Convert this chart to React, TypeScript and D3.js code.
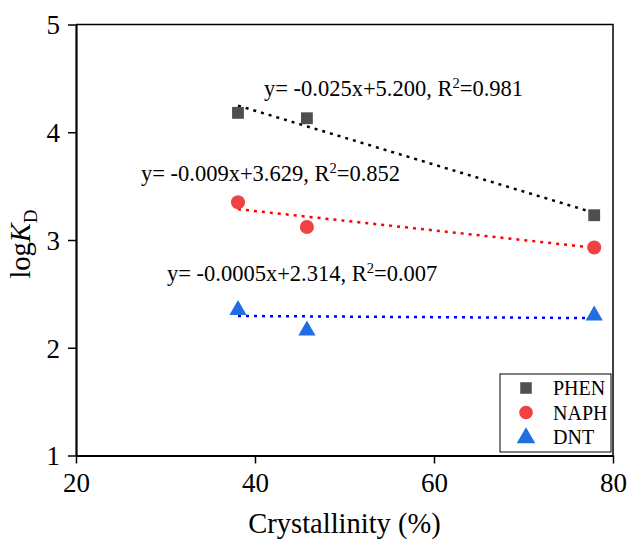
import React, { useEffect, useRef } from 'react';
import * as d3 from 'd3';

const crystallinity = [38.1, 45.8, 77.9];
const series = ['PHEN', 'NAPH', 'DNT'];
const phen = [4.18, 4.13, 3.23];
const naph = [3.35, 3.12, 2.93];
const dnt = [2.35, 2.16, 2.30];
const slopes = [-0.025, -0.009, -0.0005];
const intercepts = [5.2, 3.629, 2.314];
const eqLabels = ['y= -0.025x+5.200, R', 'y= -0.009x+3.629, R', 'y= -0.0005x+2.314, R'];
const r2Labels = ['=0.981', '=0.852', '=0.007'];
const xTicks = [20, 40, 60, 80];
const yTicks = [1, 2, 3, 4, 5];

const markerColors = ['#4f4f4f', '#ef4343', '#1f6fe3'];
const lineColors = ['#000000', '#ff0000', '#0000ff'];
const symbols = [d3.symbolSquare, d3.symbolCircle, d3.symbolTriangle];
const symbolSizes = [140, 155, 128];

const FONT = 'Liberation Serif';

const App = () => {
  const svgRef = useRef<SVGSVGElement>(null);

  useEffect(() => {
    const margin = { top: 24.5, right: 17, bottom: 85.5, left: 76 };
    const W = 630, H = 541;
    const width = W - margin.left - margin.right;
    const height = H - margin.top - margin.bottom;

    d3.select(svgRef.current).selectAll('*').remove();
    const root = d3.select(svgRef.current)
      .attr('width', W).attr('height', H)
      .attr('font-family', FONT);
    const svg = root.append('g').attr('transform', `translate(${margin.left},${margin.top})`);

    const x = d3.scaleLinear().domain([20, 80]).range([0, width]);
    const y = d3.scaleLinear().domain([1, 5]).range([height, 0]);

    // frame: top and right
    svg.append('path')
      .attr('d', `M0,0H${width}V${height}`)
      .attr('fill', 'none').attr('stroke', '#000').attr('stroke-width', 1.5);

    // axes
    const xAxis = svg.append('g')
      .attr('transform', `translate(0,${height})`)
      .call(d3.axisBottom(x).tickValues(xTicks).tickFormat(d3.format('d')).tickSize(8).tickPadding(6).tickSizeOuter(0));
    const yAxis = svg.append('g')
      .call(d3.axisLeft(y).tickValues(yTicks).tickFormat(d3.format('d')).tickSize(8).tickPadding(8).tickSizeOuter(0));
    [xAxis, yAxis].forEach(a => {
      a.attr('font-family', FONT).attr('font-size', 27);
      a.select('.domain').attr('stroke-width', 2.2);
      a.selectAll('.tick line').attr('stroke-width', 1.5);
      a.selectAll('text').attr('fill', '#000');
    });
    xAxis.selectAll('text').attr('dy', '0.82em');
    yAxis.selectAll('text').attr('dy', '0.35em');

    const values = [phen, naph, dnt];

    // trend lines (dotted), across the crystallinity range
    const xMin = d3.min(crystallinity)!, xMax = d3.max(crystallinity)!;
    values.forEach((_, i) => {
      svg.append('line')
        .attr('x1', x(xMin)).attr('y1', y(slopes[i] * xMin + intercepts[i]))
        .attr('x2', x(xMax)).attr('y2', y(slopes[i] * xMax + intercepts[i]))
        .attr('stroke', lineColors[i]).attr('stroke-width', 2.5)
        .attr('stroke-dasharray', '3,5');
    });

    // markers
    values.forEach((vals, i) => {
      svg.selectAll(`.pt${i}`)
        .data(vals)
        .enter()
        .append('path')
        .attr('transform', (d, j) => `translate(${x(crystallinity[j])},${y(d)})`)
        .attr('d', d3.symbol().type(symbols[i]).size(symbolSizes[i])())
        .attr('fill', markerColors[i]);
    });

    // equations
    const eqPos = [[264, 96], [141, 181], [167, 281]];
    eqLabels.forEach((t, i) => {
      const tx = root.append('text')
        .attr('x', eqPos[i][0]).attr('y', eqPos[i][1])
        .attr('font-size', 22.5).attr('fill', '#000');
      tx.append('tspan').text(t);
      tx.append('tspan').text('2').attr('dy', -8).attr('font-size', 14.5);
      tx.append('tspan').text(r2Labels[i]).attr('dy', 8);
    });

    // legend
    const lg = root.append('g');
    lg.append('rect')
      .attr('x', 500).attr('y', 374).attr('width', 111).attr('height', 78)
      .attr('fill', '#fff').attr('stroke', '#000').attr('stroke-width', 1);
    series.forEach((s, i) => {
      const cy = 388 + i * 24.5;
      lg.append('path')
        .attr('transform', `translate(526,${cy + (i === 2 ? 1 : 0)})`)
        .attr('d', d3.symbol().type(symbols[i]).size(i === 2 ? 150 : symbolSizes[i] * 0.95)())
        .attr('fill', markerColors[i]);
      lg.append('text')
        .attr('x', 553).attr('y', cy + 7)
        .attr('font-size', 20).attr('fill', '#000')
        .text(s);
    });

    // axis titles
    root.append('text')
      .attr('x', margin.left + width / 2).attr('y', 533)
      .attr('text-anchor', 'middle')
      .attr('font-size', 28.5)
      .text('Crystallinity (%)');

    const yl = root.append('text')
      .attr('transform', `translate(30,${margin.top + height / 2 + 4}) rotate(-90)`)
      .attr('text-anchor', 'middle')
      .attr('font-size', 28.5);
    yl.append('tspan').text('log');
    yl.append('tspan').text('K').attr('font-style', 'italic');
    yl.append('tspan').text('D').attr('dy', 7).attr('font-size', 19);
  }, []);

  return (
    <svg ref={svgRef} style={{ position: 'absolute', left: 0, top: 0 }}></svg>
  );
};

export default App;
